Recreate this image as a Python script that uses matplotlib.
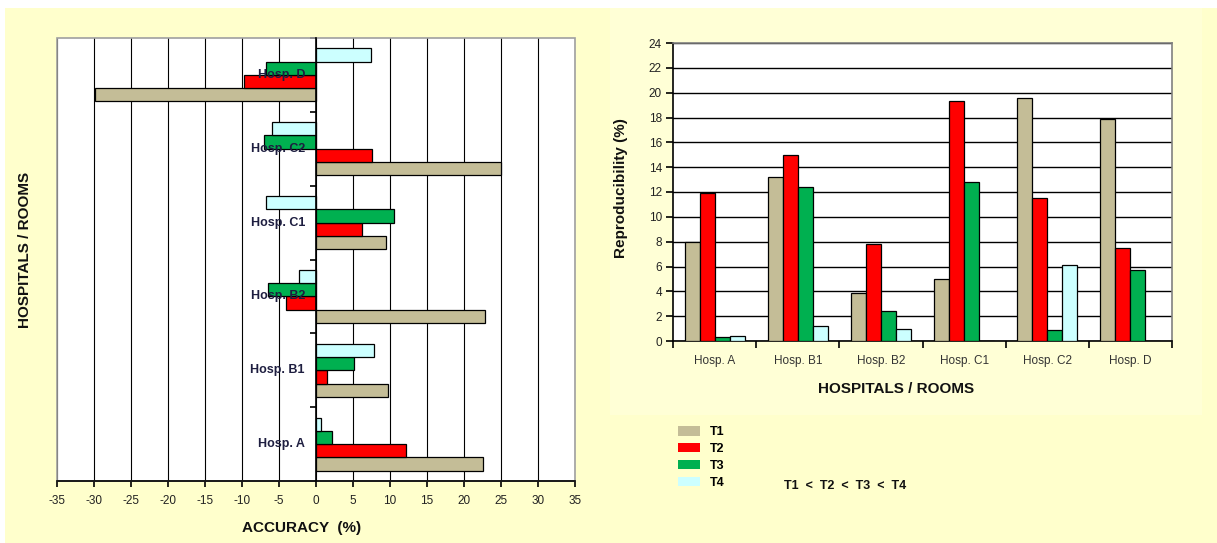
import matplotlib
matplotlib.use("Agg")
import matplotlib.pyplot as plt
import matplotlib.transforms as mtransforms
import numpy as np
from matplotlib.patches import Rectangle, Patch

# ---------------- data ----------------
hospitals = ["Hosp. A", "Hosp. B1", "Hosp. B2", "Hosp. C1", "Hosp. C2", "Hosp. D"]
series = ["T1", "T2", "T3", "T4"]
colors = ["#C4BD97", "#FF0000", "#00B050", "#CCFFFF"]

acc_t1 = [22.5, 9.7, 22.8, 9.5, 25.0, -29.8]
acc_t2 = [12.1, 1.5, -4.0, 6.2, 7.5, -9.7]
acc_t3 = [2.2, 5.2, -6.5, 10.5, -7.0, -6.7]
acc_t4 = [0.7, 7.9, -2.3, -6.7, -6.0, 7.4]

rep_t1 = [8.0, 13.2, 3.9, 5.0, 19.6, 17.9]
rep_t2 = [11.9, 15.0, 7.8, 19.3, 11.5, 7.5]
rep_t3 = [0.3, 12.4, 2.4, 12.8, 0.9, 5.7]
rep_t4 = [0.4, 1.2, 1.0, 0.0, 6.1, 0.0]

acc_ticks = list(range(-35, 36, 5))
rep_ticks = list(range(0, 25, 2))

plt.rcParams['font.family'] = ['Liberation Sans', 'DejaVu Sans']

W, H = 1217, 543
fig = plt.figure(figsize=(W / 100, H / 100), dpi=100)
fig.patch.set_facecolor("white")

def fx(x):
    return x / W

def fy(y):
    return 1 - y / H

# backgrounds
fig.patches.append(Rectangle((fx(5), 0), 1 - fx(5), fy(8), transform=fig.transFigure,
                             facecolor="#FFFFCC", edgecolor="none", zorder=-5))
fig.patches.append(Rectangle((fx(610), fy(415)), fx(1202 - 610), fy(8) - fy(415),
                             transform=fig.transFigure, facecolor="#FFFFD6",
                             edgecolor="none", zorder=-4))

bw = 0.18
acc_data = [acc_t1, acc_t2, acc_t3, acc_t4]
rep_data = [rep_t1, rep_t2, rep_t3, rep_t4]
idx = np.arange(len(hospitals))

# ---------------- left chart: accuracy ----------------
axL = fig.add_axes([fx(57), fy(481), fx(575 - 57), fy(38) - fy(481)])
axL.set_facecolor("white")
for k, (vals, c) in enumerate(zip(acc_data, colors)):
    axL.barh(idx + (k - 1.5) * bw, vals, height=bw, color=c, edgecolor="black",
             linewidth=0.9, zorder=3)
axL.set_xlim(-35, 35)
axL.set_ylim(-0.5, len(hospitals) - 0.5)
axL.set_xticks(acc_ticks)
axL.set_xticklabels([str(t) for t in acc_ticks], fontsize=8.5, color="#222222")
axL.xaxis.grid(True, color="black", linewidth=0.8, zorder=1)
axL.set_axisbelow(True)
axL.spines["left"].set_position(("data", 0))
axL.spines["left"].set_color("black")
axL.spines["left"].set_linewidth(1.2)
axL.spines["left"].set_zorder(4)
axL.spines["top"].set_visible(False)
axL.spines["right"].set_visible(False)
axL.spines["bottom"].set_color("black")
axL.spines["bottom"].set_linewidth(1.2)
axL.set_yticks(idx)
axL.set_yticklabels([])
axL.set_yticks(np.arange(-0.5, len(hospitals)), minor=True)
axL.tick_params(axis="y", which="major", length=0)
axL.tick_params(axis="y", which="minor", length=4, width=1.2, direction="out")
axL.tick_params(axis="x", which="major", length=4, width=1.2, direction="out", pad=6)
lbl_tr = mtransforms.offset_copy(axL.transData, fig=fig, x=-11, y=0, units="dots")
for i, name in enumerate(hospitals):
    axL.text(0, i, name, transform=lbl_tr, ha="right", va="center", fontsize=9,
             fontweight="bold", color="#1E1E40", zorder=10)
axL.add_patch(Rectangle((0, 0), 1, 1, transform=axL.transAxes, fill=False,
                        edgecolor="#A0A0A0", linewidth=1.2, zorder=2, clip_on=False))
fig.text(fx(302), fy(528), "ACCURACY  (%)", ha="center", va="center",
         fontsize=11, fontweight="bold", color="#111111")
fig.text(fx(25), fy(250), "HOSPITALS / ROOMS", ha="center", va="center",
         rotation=90, fontsize=11, fontweight="bold", color="#111111")

# ---------------- right chart: reproducibility ----------------
axR = fig.add_axes([fx(673), fy(341), fx(1172 - 673), fy(43) - fy(341)])
axR.set_facecolor("white")
handles = []
for k, (vals, c, s) in enumerate(zip(rep_data, colors, series)):
    axR.bar(idx + (k - 1.5) * bw, vals, width=bw, color=c, edgecolor="black",
            linewidth=0.9, zorder=3)
    handles.append(Patch(facecolor=c, edgecolor="none", label=s))
axR.set_xlim(-0.5, len(hospitals) - 0.5)
axR.set_ylim(0, 24)
axR.set_yticks(rep_ticks)
axR.set_yticklabels([str(t) for t in rep_ticks], fontsize=8.5, color="#222222")
axR.yaxis.grid(True, color="black", linewidth=1.0, zorder=1)
axR.set_axisbelow(True)
axR.set_xticks(idx)
axR.set_xticklabels(hospitals, fontsize=8.5, color="#333333")
axR.set_xticks(np.arange(-0.5, len(hospitals)), minor=True)
axR.tick_params(axis="x", which="major", length=0, pad=10)
axR.tick_params(axis="x", which="minor", length=5, width=1.2, direction="out")
axR.tick_params(axis="y", which="major", length=5, width=1.2, direction="out", pad=3)
for sp in ["top", "right"]:
    axR.spines[sp].set_color("#808080")
    axR.spines[sp].set_linewidth(1.2)
for sp in ["left", "bottom"]:
    axR.spines[sp].set_color("black")
    axR.spines[sp].set_linewidth(1.2)
fig.text(fx(896), fy(389), "HOSPITALS / ROOMS", ha="center", va="center",
         fontsize=11, fontweight="bold", color="#111111")
fig.text(fx(621), fy(188), "Reproducibility (%)", ha="center", va="center",
         rotation=90, fontsize=11, fontweight="bold", color="#111111")

# legend
leg = fig.legend(handles=handles, loc="upper left",
                 bbox_to_anchor=(fx(678), fy(426)), frameon=False,
                 prop={"size": 9, "weight": "bold"}, handlelength=1.76,
                 handleheight=0.8, handletextpad=0.8, labelspacing=0.38,
                 borderpad=0, borderaxespad=0)
fig.text(fx(784), fy(486), "T1  <  T2  <  T3  <  T4", ha="left", va="center",
         fontsize=9, fontweight="bold", color="#111111")

fig.savefig("out.png", dpi=100, facecolor=fig.get_facecolor())
